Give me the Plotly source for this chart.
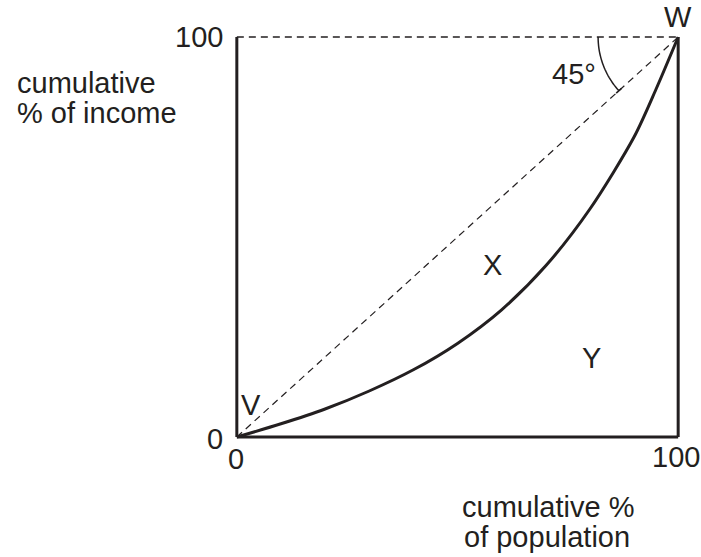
import numpy as np
import plotly.graph_objects as go

# Lorenz curve (cumulative % of population vs income)
pop_share = [0, 10, 20, 30, 40, 50, 60, 70, 80, 90, 95, 100]
income_share = [0, 3.3, 7.0, 11.5, 16.8, 23.4, 31.8, 42.8, 57.0, 75.0, 87.0, 100]

# line of perfect equality
equality_x = [0, 100]
equality_y = [0, 100]

tick_labels = ["0", "100"]

INK = "#231f20"
FONT = "Liberation Sans, Arial, sans-serif"
FS = 29
LO, HI = -2, 102  # axis range, a little wider than the box so edges aren't clipped

fig = go.Figure()

fig.add_trace(go.Scatter(
    x=equality_x, y=equality_y, mode="lines",
    line=dict(color=INK, width=1.2, dash="7px,5px"),
    hoverinfo="skip",
))
fig.add_trace(go.Scatter(
    x=pop_share, y=income_share, mode="lines",
    line=dict(color=INK, width=3, shape="spline", smoothing=0.8),
    hoverinfo="skip",
))

# box: solid left / bottom / right, dashed top
solid = dict(color=INK, width=3)
fig.add_shape(type="line", x0=0, x1=0, y0=0, y1=100, line=solid)
fig.add_shape(type="line", x0=0, x1=100, y0=0, y1=0, line=solid)
fig.add_shape(type="line", x0=100, x1=100, y0=0, y1=100, line=solid)
fig.add_shape(type="line", x0=0, x1=100, y0=100, y1=100,
              line=dict(color=INK, width=1.3, dash="7px,5px"))

# 45 degree arc around W (radius in pixels, converted to data units)
px_x, px_y, r = 4.41, 4.0, 80
t = np.linspace(0, np.arctan2(400, 441), 40)
ax = 100 - r * np.cos(t) / px_x
ay = 100 - r * np.sin(t) / px_y
path = "M " + " L ".join(f"{a:.3f},{b:.3f}" for a, b in zip(ax, ay))
fig.add_shape(type="path", path=path, line=dict(color=INK, width=1.5))
ex, ey = ax[-1], ay[-1]
fig.add_shape(type="line", x0=ex - 0.6, x1=ex + 0.6, y0=ey - 0.6, y1=ey + 0.6,
              line=dict(color=INK, width=1.5))


def label(text, x, y, xanchor="center"):
    # positions given in data units, placed via paper coords so they show off-range
    fig.add_annotation(x=(x - LO) / (HI - LO), y=(y - LO) / (HI - LO),
                       xref="paper", yref="paper", text=text, showarrow=False,
                       xanchor=xanchor, yanchor="middle",
                       font=dict(family=FONT, size=FS, color=INK))


label(tick_labels[1], -2.6, 100, "right")
label(tick_labels[0], -2.6, -0.5, "right")
label(tick_labels[0], -0.2, -5.5)
label(tick_labels[1], 99.4, -5.1)

label("V", 3.3, 7.9)
label("W", 100, 104.9)
label("45°", 76.3, 90.7)
label("X", 57.9, 43)
label("Y", 80.3, 19.7)

label("cumulative", -50.3, 88.4, "left")
label("% of income", -50.3, 80.9, "left")
label("cumulative %", 70.5, -17.5)
label("of population", 70.3, -25)

fig.update_layout(
    width=701, height=557,
    margin=dict(l=228.2, r=14.2, t=29, b=112, pad=0),
    paper_bgcolor="white", plot_bgcolor="white",
    showlegend=False,
    hovermode=False,
    xaxis=dict(range=[LO, HI], visible=False, fixedrange=True),
    yaxis=dict(range=[LO, HI], visible=False, fixedrange=True),
)

# drop the page's default body margin so the figure fills the window
fig.write_html("out.html", config={"displayModeBar": False},
               post_script="document.body.style.margin = '0';")
